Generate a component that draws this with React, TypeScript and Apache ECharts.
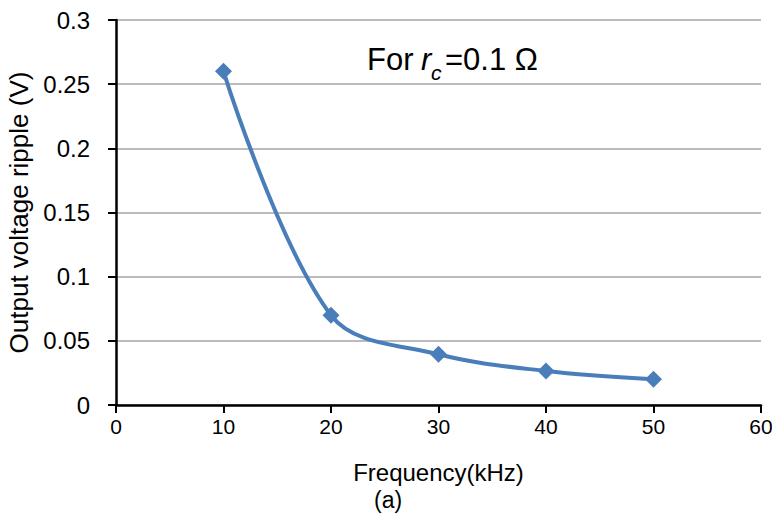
import React, { useEffect, useRef } from "react";
import * as echarts from "echarts";

const frequencies = [10, 20, 30, 40, 50];
const ripple = [0.26, 0.07, 0.0395, 0.0265, 0.02];
const xTitle = "Frequency(kHz)";
const yTitle = "Output voltage ripple (V)";
const caption = "(a)";

export default function App() {
  const ref = useRef<HTMLDivElement>(null);
  useEffect(() => {
    if (!ref.current) return;
    const chart = echarts.init(ref.current, null, { renderer: "svg" });
    const font = "'Liberation Sans', Arial, sans-serif";
    chart.setOption({
      animation: false,
      backgroundColor: "#ffffff",
      textStyle: { fontFamily: font, color: "#000" },
      grid: { left: 116, right: 19, top: 20, bottom: 121, containLabel: false, outerBoundsMode: "none" },
      xAxis: {
        type: "value",
        min: 0,
        max: 60,
        interval: 10,
        name: xTitle,
        nameLocation: "middle",
        nameGap: 55,
        nameTextStyle: { fontSize: 24, color: "#000", fontFamily: font },
        axisLine: { lineStyle: { color: "#000", width: 2.5 } },
        axisTick: { show: true, length: 8, lineStyle: { color: "#000", width: 2 } },
        axisLabel: { fontSize: 21, color: "#000", margin: 11, fontFamily: font },
        splitLine: { show: false },
      },
      yAxis: {
        type: "value",
        min: 0,
        max: 0.3,
        interval: 0.05,
        name: yTitle,
        nameLocation: "middle",
        nameGap: 84,
        nameTextStyle: { fontSize: 26, color: "#000", fontFamily: font },
        axisLine: { show: true, lineStyle: { color: "#000", width: 2.5 } },
        axisTick: { show: true, length: 8, lineStyle: { color: "#000", width: 2 } },
        axisLabel: { fontSize: 24, color: "#000", margin: 26, fontFamily: font },
        splitLine: { show: true, lineStyle: { color: "#a6a6a6", width: 1.5 } },
      },
      series: [
        {
          type: "line",
          data: frequencies.map((f, i) => [f, ripple[i]]),
          smooth: 0.35,
          symbol: "diamond",
          symbolSize: 17,
          lineStyle: { color: "#4a7ebb", width: 4 },
          itemStyle: { color: "#4a7ebb" },
        },
      ],
      graphic: [
        { type: "text", left: 367, top: 44, style: { text: "For", fontSize: 31, fontFamily: font, fill: "#000" } },
        { type: "text", left: 421, top: 44, style: { text: "r", fontSize: 31, fontStyle: "italic", fontFamily: font, fill: "#000" } },
        { type: "text", left: 431, top: 62, style: { text: "c", fontSize: 21, fontStyle: "italic", fontFamily: font, fill: "#000" } },
        { type: "text", left: 445, top: 44, style: { text: "=0.1 Ω", fontSize: 31, fontFamily: font, fill: "#000" } },
        { type: "text", left: 374, top: 488, style: { text: caption, fontSize: 23, fontFamily: font, fill: "#000" } },
      ],
    });
    return () => chart.dispose();
  }, []);
  return <div ref={ref} style={{ width: 780, height: 526, margin: -8 }} />;
}
